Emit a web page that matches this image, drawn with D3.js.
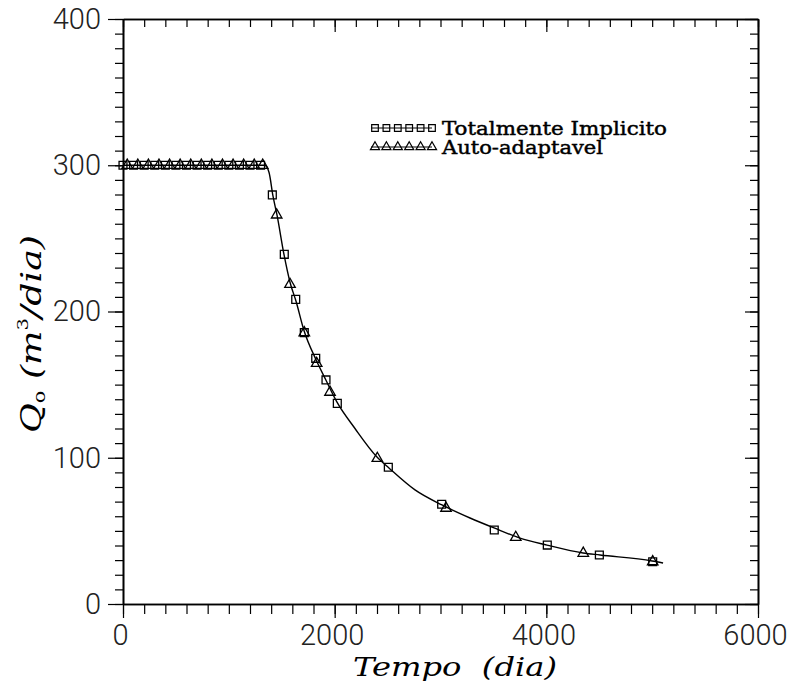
<!DOCTYPE html>
<html>
<head>
<meta charset="utf-8">
<script src="https://cdn.jsdelivr.net/npm/d3@7"></script>
<style>
  html, body { margin: 0; padding: 0; background: #fff; }
  svg { display: block; }
</style>
</head>
<body>
<div id="chart"></div>
<script>
// ---- data ----
const xTickValues = [0, 2000, 4000, 6000];
const yTickValues = [0, 100, 200, 300, 400];
const xTitle = "Tempo  (dia)";
const seriesNames = ["Totalmente Implicito", "Auto-adaptavel"];

// continuous solution line
const curveT = [0, 1340, 1380, 1417, 1455, 1521, 1578, 1635, 1710, 1824, 1918, 2022, 2192, 2400, 2513, 2759, 3014, 3279, 3506, 3751, 4006, 4347, 4508, 5000, 5103];
const curveQ = [300, 300, 295, 279, 266, 239, 220, 207, 187, 167, 153, 138, 120, 100.5, 93, 78, 67.7, 58.8, 52, 45.1, 40.3, 34.9, 33.5, 29.4, 28];

// Totalmente Implicito (squares)
const implicitT = [0, 100, 200, 300, 400, 500, 600, 700, 800, 900, 1000, 1100, 1200, 1300, 1411, 1524, 1632, 1713, 1821, 1918, 2025, 2507, 3011, 3508, 4009, 4501, 5005];
const implicitQ = [300, 300, 300, 300, 300, 300, 300, 300, 300, 300, 300, 300, 300, 300, 279.7, 239.1, 208.3, 185.5, 168, 153.2, 137.2, 93.5, 68.2, 50.6, 40.3, 33.5, 28.9];

// Auto-adaptavel (triangles)
const adaptT = [40, 140, 240, 340, 440, 540, 640, 740, 840, 940, 1040, 1140, 1240, 1320, 1452, 1578, 1713, 1830, 1956, 2403, 3052, 3711, 4349, 5005];
const adaptQ = [300, 300, 300, 300, 300, 300, 300, 300, 300, 300, 300, 300, 300, 300, 266, 218.6, 185.5, 164.5, 144.8, 99.6, 65.5, 45.6, 34.7, 28.9];

// ---- layout ----
const W = 794, H = 692;
const L = 123, R = 758, T = 19, B = 604;

const svg = d3.select("#chart").append("svg")
  .attr("width", W).attr("height", H)
  .attr("viewBox", `0 0 ${W} ${H}`);

const x = d3.scaleLinear().domain([0, 6000]).range([L, R]);
const y = d3.scaleLinear().domain([0, 400]).range([B, T]);

const xMinor = d3.range(0, 6001, 200);
const yMinor = d3.range(0, 401, 10);

function styleAxis(g) {
  g.selectAll("path.domain").attr("stroke", "#000").attr("stroke-width", 1.6);
  g.selectAll(".tick line").attr("stroke", "#000").attr("stroke-width", 1.2);
}

// bottom (outward)
svg.append("g").attr("transform", `translate(0,${B})`)
  .call(d3.axisBottom(x).tickValues(xMinor).tickSize(10).tickSizeOuter(0).tickFormat(""))
  .call(styleAxis);
const gxb = svg.append("g").attr("transform", `translate(0,${B})`)
  .call(d3.axisBottom(x).tickValues(xTickValues).tickSize(14).tickSizeOuter(0).tickPadding(6).tickFormat(d3.format("d")))
  .call(styleAxis);

// top (inward)
svg.append("g").attr("transform", `translate(0,${T})`)
  .call(d3.axisTop(x).tickValues(xMinor).tickSize(-8).tickSizeOuter(0).tickFormat(""))
  .call(styleAxis);
svg.append("g").attr("transform", `translate(0,${T})`)
  .call(d3.axisTop(x).tickValues(xTickValues).tickSize(-13).tickSizeOuter(0).tickFormat(""))
  .call(styleAxis);

// left (outward)
svg.append("g").attr("transform", `translate(${L},0)`)
  .call(d3.axisLeft(y).tickValues(yMinor).tickSize(8).tickSizeOuter(0).tickFormat(""))
  .call(styleAxis);
const gyl = svg.append("g").attr("transform", `translate(${L},0)`)
  .call(d3.axisLeft(y).tickValues(yTickValues).tickSize(15).tickSizeOuter(0).tickPadding(7).tickFormat(d3.format("d")))
  .call(styleAxis);

// right (inward)
svg.append("g").attr("transform", `translate(${R},0)`)
  .call(d3.axisRight(y).tickValues(yMinor).tickSize(-8).tickSizeOuter(0).tickFormat(""))
  .call(styleAxis);
svg.append("g").attr("transform", `translate(${R},0)`)
  .call(d3.axisRight(y).tickValues(yTickValues).tickSize(-13).tickSizeOuter(0).tickFormat(""))
  .call(styleAxis);

[gxb, gyl].forEach(g => g.selectAll(".tick text")
  .attr("font-family", "Roboto, 'DejaVu Sans', sans-serif")
  .attr("font-weight", 300)
  .attr("font-size", 29)
  .attr("fill", "#222"));
gxb.selectAll(".tick text").attr("dx", -3);

// ---- line ----
const line = d3.line()
  .x((d, i) => x(curveT[i]))
  .y((d, i) => y(curveQ[i]))
  .curve(d3.curveMonotoneX);
svg.append("path")
  .attr("d", line(curveT))
  .attr("fill", "none")
  .attr("stroke", "#000")
  .attr("stroke-width", 1.4);

// ---- markers ----
const sq = d3.symbol().type(d3.symbolSquare).size(62);
const tri = d3.symbol().type(d3.symbolTriangle).size(48);

svg.append("g").selectAll("path")
  .data(implicitT)
  .join("path")
  .attr("transform", (d, i) => `translate(${x(d)},${y(implicitQ[i])})`)
  .attr("d", sq())
  .attr("fill", "none")
  .attr("stroke", "#000")
  .attr("stroke-width", 1.3);

svg.append("g").selectAll("path")
  .data(adaptT)
  .join("path")
  .attr("transform", (d, i) => `translate(${x(d)},${y(adaptQ[i])})`)
  .attr("d", tri())
  .attr("fill", "none")
  .attr("stroke", "#000")
  .attr("stroke-width", 1.3);

// ---- legend ----
const legendRows = [
  { name: seriesNames[0], sym: d3.symbol().type(d3.symbolSquare).size(44), yc: 128, base: 135, len: 225 },
  { name: seriesNames[1], sym: d3.symbol().type(d3.symbolTriangle).size(36), yc: 147, base: 154, len: 161 }
];
const lx0 = 371, lx1 = 432;
legendRows.forEach(r => {
  const g = svg.append("g");
  g.append("line").attr("x1", lx0).attr("x2", lx1).attr("y1", r.yc).attr("y2", r.yc)
    .attr("stroke", "#000").attr("stroke-width", 1.2);
  g.selectAll("path").data(d3.range(6)).join("path")
    .attr("transform", i => `translate(${lx0 + 4 + i * 11.4},${r.yc})`)
    .attr("d", r.sym())
    .attr("fill", "none").attr("stroke", "#000").attr("stroke-width", 1.2);
  g.append("text")
    .attr("x", 442).attr("y", r.base)
    .attr("font-family", "'DejaVu Serif', serif")
    .attr("font-size", 18)
    .attr("stroke", "#000")
    .attr("stroke-width", 0.45)
    .attr("textLength", r.len)
    .attr("lengthAdjust", "spacingAndGlyphs")
    .attr("fill", "#000")
    .text(r.name);
});

// ---- axis titles ----
svg.append("text")
  .attr("x", 455).attr("y", 676)
  .attr("text-anchor", "middle")
  .attr("font-family", "'DejaVu Serif', serif")
  .attr("font-style", "italic")
  .attr("font-size", 26)
  .attr("textLength", 204)
  .attr("lengthAdjust", "spacingAndGlyphs")
  .attr("xml:space", "preserve")
  .style("white-space", "pre")
  .attr("fill", "#000")
  .text(xTitle);

const yt = svg.append("text")
  .attr("transform", "translate(41,334) rotate(-90)")
  .attr("text-anchor", "middle")
  .attr("font-family", "'DejaVu Serif', serif")
  .attr("font-style", "italic")
  .attr("font-size", 28)
  .attr("textLength", 198)
  .attr("lengthAdjust", "spacingAndGlyphs")
  .attr("fill", "#000");
yt.append("tspan").text("Q");
yt.append("tspan").attr("font-size", 16).attr("dy", 4).attr("font-style", "normal").text("o");
yt.append("tspan").attr("dy", -4).text(" (m");
yt.append("tspan").attr("font-size", 15).attr("dy", -13).attr("font-style", "normal").text("3");
yt.append("tspan").attr("dy", 13).text("/dia)");
</script>
</body>
</html>
